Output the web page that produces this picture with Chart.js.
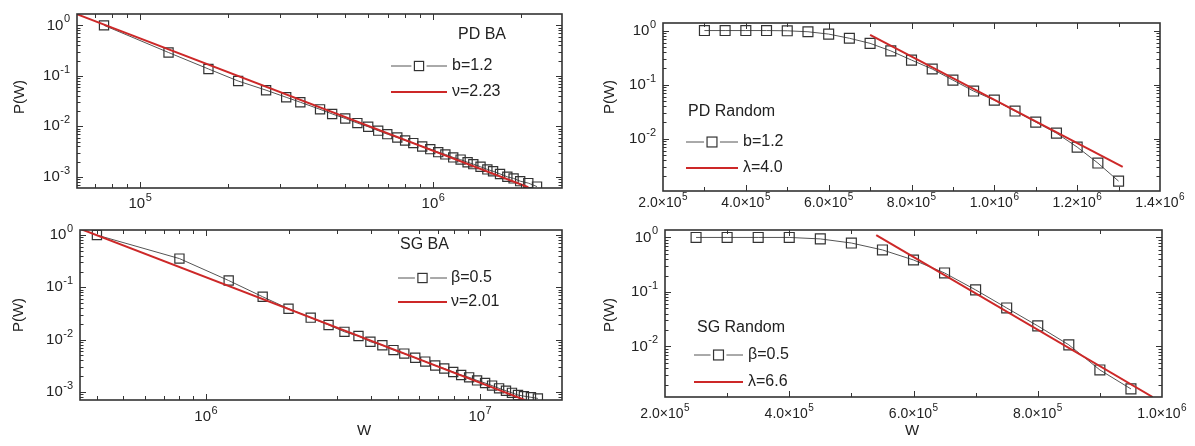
<!DOCTYPE html>
<html><head><meta charset="utf-8">
<script src="https://cdn.jsdelivr.net/npm/chart.js@4.4.1/dist/chart.umd.min.js"></script>
<style>
html,body{margin:0;padding:0;background:#fff;}
#wrap{position:relative;width:1195px;height:446px;overflow:hidden;font-family:"Liberation Sans",Arial,sans-serif;color:#222;}
canvas{position:absolute;}
.lab{position:absolute;font-size:15px;line-height:18px;text-align:center;white-space:nowrap;color:#222;}
.rot{transform:rotate(-90deg);}
</style></head><body>
<div id="wrap">
<canvas id="cTL" width="597" height="215" style="left:0;top:0;width:597px;height:215px"></canvas>
<canvas id="cBL" width="597" height="231" style="left:0;top:215px;width:597px;height:231px"></canvas>
<canvas id="cTR" width="598" height="215" style="left:597px;top:0;width:598px;height:215px"></canvas>
<canvas id="cBR" width="598" height="231" style="left:597px;top:215px;width:598px;height:231px"></canvas>
<div class="lab rot" style="left:-11px;top:88px;width:60px;">P(W)</div>
<div class="lab rot" style="left:-12px;top:306px;width:60px;">P(W)</div>
<div class="lab rot" style="left:579px;top:88px;width:60px;">P(W)</div>
<div class="lab rot" style="left:579px;top:306px;width:60px;">P(W)</div>
<div class="lab" style="left:344px;top:421px;width:40px;">W</div>
<div class="lab" style="left:892px;top:421px;width:40px;">W</div>
</div>
<script>
// ---------- data ----------
// PD BA (top left)
const pdBaW = [7.53e4, 1.25e5, 1.71e5, 2.16e5, 2.69e5, 3.15e5, 3.52e5, 4.11e5, 4.52e5, 5.01e5, 5.51e5, 6.0e5, 6.49e5, 6.97e5, 7.54e5, 8.02e5, 8.55e5, 9.17e5, 9.77e5, 1.04e6, 1.10e6, 1.17e6, 1.24e6, 1.31e6, 1.37e6, 1.45e6, 1.53e6, 1.60e6, 1.69e6, 1.79e6, 1.88e6, 1.98e6, 2.11e6, 2.26e6];
const pdBaP = [1.0, 0.29, 0.137, 0.079, 0.052, 0.0376, 0.030, 0.0217, 0.0176, 0.0143, 0.0116, 0.0098, 0.0082, 0.0070, 0.0060, 0.00525, 0.00465, 0.00398, 0.00353, 0.00308, 0.00278, 0.00242, 0.00219, 0.00194, 0.00178, 0.00158, 0.0014, 0.00129, 0.00114, 0.0010, 0.00093, 0.00082, 0.00075, 0.00064];
const pdBaFitW = [6.09e4, 2.11e6];
const pdBaFitP = [1.66, 6.2e-4];

// SG BA (bottom left)
const sgBaW = [4.0e5, 8.0e5, 1.21e6, 1.61e6, 2.0e6, 2.41e6, 2.80e6, 3.20e6, 3.60e6, 3.98e6, 4.40e6, 4.83e6, 5.29e6, 5.80e6, 6.31e6, 6.86e6, 7.40e6, 7.98e6, 8.53e6, 9.12e6, 9.75e6, 1.043e7, 1.106e7, 1.173e7, 1.243e7, 1.307e7, 1.375e7, 1.445e7, 1.533e7, 1.625e7];
const sgBaP = [1.0, 0.355, 0.135, 0.066, 0.039, 0.0263, 0.0191, 0.0141, 0.0117, 0.0091, 0.0078, 0.0063, 0.0054, 0.0045, 0.0038, 0.0032, 0.0028, 0.0024, 0.0021, 0.0019, 0.00166, 0.00148, 0.00132, 0.00117, 0.00105, 0.00096, 0.00087, 0.00083, 0.00079, 0.00075];
const sgBaFitW = [3.47e5, 1.49e7];
const sgBaFitP = [1.32, 6.7e-4];

// PD Random (top right)
const pdRandW = [3.0e5, 3.5e5, 4.0e5, 4.5e5, 5.0e5, 5.5e5, 6.0e5, 6.5e5, 7.0e5, 7.5e5, 8.0e5, 8.5e5, 9.0e5, 9.5e5, 1.0e6, 1.05e6, 1.1e6, 1.15e6, 1.2e6, 1.25e6, 1.3e6];
const pdRandP = [1.0, 1.0, 1.0, 1.0, 0.99, 0.95, 0.86, 0.72, 0.58, 0.42, 0.284, 0.194, 0.121, 0.0758, 0.0516, 0.0323, 0.0202, 0.0126, 0.00696, 0.00352, 0.00163];
const pdRandFitW = [7.0e5, 1.31e6];
const pdRandFitP = [0.83, 0.0030];

// SG Random (bottom right)
const sgRandW = [2.5e5, 3.0e5, 3.5e5, 4.0e5, 4.5e5, 5.0e5, 5.5e5, 6.0e5, 6.5e5, 7.0e5, 7.5e5, 8.0e5, 8.5e5, 9.0e5, 9.5e5];
const sgRandP = [1.0, 1.0, 1.0, 1.0, 0.94, 0.79, 0.59, 0.386, 0.223, 0.109, 0.0508, 0.0238, 0.0107, 0.0037, 0.00166];
const sgRandFitW = [5.4e5, 9.85e5];
const sgRandFitP = [1.1, 1.18e-3];

// tick labels ("^" marks the start of the superscript)
const yTickValues = [1, 0.1, 0.01, 0.001];
const yTickLabels = ['10^0', '10^-1', '10^-2', '10^-3'];
const tlXTickValues = [1e5, 1e6];
const tlXTickLabels = ['10^5', '10^6'];
const blXTickValues = [1e6, 1e7];
const blXTickLabels = ['10^6', '10^7'];
const trXTickValues = [2e5, 4e5, 6e5, 8e5, 1e6, 1.2e6, 1.4e6];
const trXTickLabels = ['2.0\u00D710^5', '4.0\u00D710^5', '6.0\u00D710^5', '8.0\u00D710^5', '1.0\u00D710^6', '1.2\u00D710^6', '1.4\u00D710^6'];
const brXTickValues = [2e5, 4e5, 6e5, 8e5, 1e6];
const brXTickLabels = ['2.0\u00D710^5', '4.0\u00D710^5', '6.0\u00D710^5', '8.0\u00D710^5', '1.0\u00D710^6'];

// ---------- rendering ----------
const FONT = '"Liberation Sans", Arial, sans-serif';
Chart.defaults.font.family = FONT;
Chart.defaults.color = '#222';
const RED = 'rgb(205,40,40)';

function isListed(v, values) {
  return values.some(t => Math.abs(v - t) <= Math.abs(t) * 1e-6);
}

function drawSup(ctx, text, x, y, align, size) {
  const parts = text.split('^');
  const base = parts[0], exp = parts[1] || '';
  const es = Math.round(size * 0.72);
  ctx.font = size + 'px ' + FONT;
  const wb = ctx.measureText(base).width;
  ctx.font = es + 'px ' + FONT;
  const we = exp ? ctx.measureText(exp).width + 0.5 : 0;
  const total = wb + we;
  const x0 = align === 'right' ? x - total : (align === 'center' ? x - total / 2 : x);
  ctx.textAlign = 'left';
  ctx.textBaseline = 'middle';
  ctx.font = size + 'px ' + FONT;
  ctx.fillText(base, x0, y);
  if (exp) {
    ctx.font = es + 'px ' + FONT;
    ctx.fillText(exp, x0 + wb + 0.5, y - size * 0.4);
  }
}

const frameTicks = {
  id: 'frameTicks',
  afterDraw(chart, args, o) {
    const {ctx, chartArea: a} = chart;
    const xs = chart.scales.x, ys = chart.scales.y;
    const kindOf = (s, t, listed) => {
      if (s.type === 'logarithmic') {
        const e = Math.floor(Math.log10(t.value) + 1e-9);
        const m = t.value / Math.pow(10, e);
        if (Math.abs(m - Math.round(m)) > 1e-6) return null;
        return Math.round(m) === 1 ? 'major' : 'minor';
      }
      return isListed(t.value, listed) ? 'major' : 'minor';
    };
    ctx.save();
    ctx.strokeStyle = '#333';
    ctx.lineWidth = 1;
    ctx.beginPath();
    xs.ticks.forEach(t => {
      const k = kindOf(xs, t, o.xValues); if (!k) return;
      const px = Math.round(xs.getPixelForValue(t.value)) + 0.5;
      if (px <= a.left + 2 || px >= a.right - 2) return;
      const L = k === 'major' ? 6 : 4;
      ctx.moveTo(px, a.bottom); ctx.lineTo(px, a.bottom - L);
      ctx.moveTo(px, a.top); ctx.lineTo(px, a.top + L);
    });
    ys.ticks.forEach(t => {
      const k = kindOf(ys, t, o.yValues); if (!k) return;
      const py = Math.round(ys.getPixelForValue(t.value)) + 0.5;
      if (py <= a.top + 2 || py >= a.bottom - 2) return;
      const L = k === 'major' ? 6 : 3.5;
      ctx.moveTo(a.left, py); ctx.lineTo(a.left + L, py);
      ctx.moveTo(a.right, py); ctx.lineTo(a.right - L, py);
    });
    ctx.stroke();
    ctx.lineWidth = 1.6;
    ctx.strokeRect(a.left, a.top, a.right - a.left, a.bottom - a.top);

    // tick labels
    ctx.fillStyle = '#222';
    o.xValues.forEach((v, i) => {
      if (v < xs.min - 1e-9 * v || v > xs.max + 1e-9 * v) return;
      drawSup(ctx, o.xLabels[i], xs.getPixelForValue(v), a.bottom + o.xDy, 'center', o.xFont);
    });
    o.yValues.forEach((v, i) => {
      if (v < ys.min || v > ys.max) return;
      drawSup(ctx, o.yLabels[i], a.left - 7, ys.getPixelForValue(v), 'right', 15);
    });
    ctx.restore();
  }
};

const insideLegend = {
  id: 'insideLegend',
  afterDraw(chart, args, o) {
    if (!o || !o.title) return;
    const ctx = chart.ctx;
    const ox = o.offsetX, oy = o.offsetY;
    ctx.save();
    ctx.font = '16px ' + FONT;
    ctx.fillStyle = '#222';
    ctx.textBaseline = 'middle';
    ctx.textAlign = 'left';
    ctx.fillText(o.title, o.titleX - ox, o.titleY - oy);
    o.rows.forEach(row => {
      const d = chart.data.datasets[row.dataset];
      const y = row.y - oy;
      const x0 = o.lineX0 - ox, x1 = o.lineX1 - ox;
      ctx.strokeStyle = d.borderColor;
      ctx.lineWidth = d.borderWidth;
      ctx.beginPath();
      if (d.pointRadius > 0) {
        const h = Math.SQRT1_2 * d.pointRadius;
        const xc = (x0 + x1) / 2;
        ctx.moveTo(x0, y); ctx.lineTo(xc - h - 3, y);
        ctx.moveTo(xc + h + 3, y); ctx.lineTo(x1, y);
        ctx.stroke();
        ctx.strokeStyle = d.pointBorderColor;
        ctx.lineWidth = d.pointBorderWidth;
        ctx.strokeRect(xc - h, y - h, 2 * h, 2 * h);
      } else {
        ctx.moveTo(x0, y); ctx.lineTo(x1, y);
        ctx.stroke();
      }
      ctx.font = '16px ' + FONT;
      ctx.fillText(d.label, o.textX - ox, y);
    });
    ctx.restore();
  }
};

function panel(id, o) {
  const pts = (ws, ps) => ws.map((w, i) => ({x: w, y: ps[i]}));
  return new Chart(document.getElementById(id), {
    type: 'scatter',
    data: {
      datasets: [
        { label: o.fitLabel, data: pts(o.fitW, o.fitP), showLine: true, borderColor: RED,
          borderWidth: 2, pointRadius: 0, order: 0 },
        { label: o.dataLabel, data: pts(o.W, o.P), showLine: true, borderColor: '#555',
          borderWidth: 1, pointStyle: 'rect', pointRadius: o.r, pointBorderColor: '#333',
          pointBorderWidth: 1.2, pointBackgroundColor: 'rgba(0,0,0,0)', order: 1 }
      ]
    },
    options: {
      responsive: false, animation: false, devicePixelRatio: 1,
      layout: { padding: o.pad },
      plugins: {
        legend: { display: false }, tooltip: { enabled: false },
        insideLegend: o.legend,
        frameTicks: { xValues: o.xTickValues, xLabels: o.xTickLabels, yValues: yTickValues, yLabels: yTickLabels,
                      xFont: o.xFont, xDy: o.xDy }
      },
      scales: {
        x: {
          type: o.xType, min: o.xMin, max: o.xMax,
          grid: { display: false }, border: { display: false },
          ticks: { display: false, autoSkip: false, stepSize: o.xStep },
          afterFit: s => { s.height = o.xH; }
        },
        y: {
          type: 'logarithmic', min: o.yMin, max: o.yMax,
          grid: { display: false }, border: { display: false },
          ticks: { display: false, autoSkip: false },
          afterFit: s => { s.width = o.yW; }
        }
      }
    },
    plugins: [frameTicks, insideLegend]
  });
}

panel('cTL', {
  W: pdBaW, P: pdBaP, fitW: pdBaFitW, fitP: pdBaFitP, dataLabel: 'b=1.2', fitLabel: '\u03BD=2.23', r: 6.5,
  xType: 'logarithmic', xMin: 6.09e4, xMax: 2.75e6, xTickValues: tlXTickValues, xTickLabels: tlXTickLabels,
  xDy: 16, xFont: 15, xH: 27, yMin: 6.4e-4, yMax: 1.68, yW: 77,
  pad: { left: 0, top: 14, right: 35, bottom: 0 },
  legend: { offsetX: 0, offsetY: 0, title: 'PD BA', titleX: 458, titleY: 35, lineX0: 391, lineX1: 447, textX: 452,
            rows: [{ dataset: 1, y: 66 }, { dataset: 0, y: 92 }] }
});

panel('cBL', {
  W: sgBaW, P: sgBaP, fitW: sgBaFitW, fitP: sgBaFitP, dataLabel: '\u03B2=0.5', fitLabel: '\u03BD=2.01', r: 6.5,
  xType: 'logarithmic', xMin: 3.47e5, xMax: 1.99e7, xTickValues: blXTickValues, xTickLabels: blXTickLabels,
  xDy: 17, xFont: 15, xH: 46, yMin: 7.0e-4, yMax: 1.25, yW: 80,
  pad: { left: 0, top: 15, right: 35, bottom: 0 },
  legend: { offsetX: 0, offsetY: 215, title: 'SG BA', titleX: 400, titleY: 245, lineX0: 398, lineX1: 447, textX: 451,
            rows: [{ dataset: 1, y: 278 }, { dataset: 0, y: 302 }] }
});

panel('cTR', {
  W: pdRandW, P: pdRandP, fitW: pdRandFitW, fitP: pdRandFitP, dataLabel: 'b=1.2', fitLabel: '\u03BB=4.0', r: 7,
  xType: 'linear', xMin: 2e5, xMax: 1.4e6, xStep: 1e5, xTickValues: trXTickValues, xTickLabels: trXTickLabels,
  xDy: 12, xFont: 14, xH: 24, yMin: 1.07e-3, yMax: 1.38, yW: 66,
  pad: { left: 0, top: 23, right: 35, bottom: 0 },
  legend: { offsetX: 597, offsetY: 0, title: 'PD Random', titleX: 688, titleY: 112, lineX0: 686, lineX1: 738, textX: 743,
            rows: [{ dataset: 1, y: 142 }, { dataset: 0, y: 168 }] }
});

panel('cBR', {
  W: sgRandW, P: sgRandP, fitW: sgRandFitW, fitP: sgRandFitP, dataLabel: '\u03B2=0.5', fitLabel: '\u03BB=6.6', r: 7,
  xType: 'linear', xMin: 2e5, xMax: 1.0e6, xStep: 1e5, xTickValues: brXTickValues, xTickLabels: brXTickLabels,
  xDy: 17, xFont: 14, xH: 49, yMin: 1.18e-3, yMax: 1.37, yW: 68,
  pad: { left: 0, top: 15, right: 33, bottom: 0 },
  legend: { offsetX: 597, offsetY: 215, title: 'SG Random', titleX: 697, titleY: 328, lineX0: 694, lineX1: 743, textX: 748,
            rows: [{ dataset: 1, y: 355 }, { dataset: 0, y: 382 }] }
});
</script>
</body></html>
